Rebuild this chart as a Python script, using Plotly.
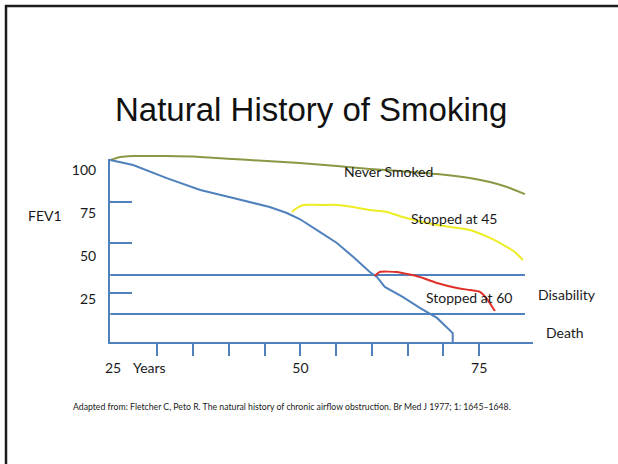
import plotly.graph_objects as go

# ---- data: FEV1 (% of value at age 25) against age in years ----
NEVER_AGE = [23.4, 24.8, 26.6, 31.3, 36.0, 40.6, 45.3, 49.9, 55.1, 59.7, 63.9, 69.1, 73.7, 76.5, 78.9, 81.4]
NEVER_FEV1 = [105.8, 107.6, 108.1, 108.1, 107.6, 106.4, 105.2, 104.1, 102.3, 100.6, 99.4, 97.7, 95.3, 93.0, 90.1, 86.0]

SMOKER_AGE = [23.4, 26.6, 31.3, 36.0, 40.6, 45.7, 48.1, 49.9, 52.7, 55.1, 57.4, 59.7, 60.7, 61.8,
              64.3, 66.7, 69.1, 70.9, 71.3, 71.3]
SMOKER_FEV1 = [105.8, 102.9, 95.3, 88.4, 83.7, 78.5, 75.0, 71.5, 64.0, 57.6, 49.4, 40.7, 37.8, 32.0,
               26.2, 19.8, 14.0, 7.0, 5.2, 0.0]

STOP45_AGE = [48.8, 49.5, 50.4, 52.7, 55.1, 57.4, 59.7, 62.1, 64.3, 69.1, 73.7, 76.5, 78.9, 80.0, 81.1]
STOP45_FEV1 = [75.6, 77.9, 79.7, 79.7, 79.7, 78.5, 76.7, 75.6, 72.7, 68.0, 65.1, 60.5, 55.2, 52.3, 47.7]

STOP60_AGE = [60.4, 61.1, 63.5, 66.7, 69.1, 71.9, 73.7, 75.1, 76.2, 77.2]
STOP60_FEV1 = [38.4, 40.7, 40.7, 37.8, 34.3, 31.4, 30.2, 29.1, 24.4, 18.0]

DISABILITY_FEV1 = 39.0
DEATH_FEV1 = 16.3

X_TICK_AGES = [30, 35, 40, 45, 50, 55, 60, 65, 70, 75]
X_TICK_TEXT = ["", "", "", "", "50", "", "", "", "", "75"]
Y_TICK_VALUES = [25, 50, 75, 100]
Y_TICK_TEXT = ["25", "50", "75", "100"]
Y_MARKS = [28.5, 57.6, 81.4]

# ---- page geometry ----
W, H = 618, 464
PX_PER_YEAR = 7.15
PX_PER_UNIT = 1.72
AGE_AT_X0 = 52.5 - 318.3 / PX_PER_YEAR        # age at left page edge
FEV_AT_BOTTOM = (342 - H) / PX_PER_UNIT        # FEV1 at page bottom
FEV_AT_TOP = 342 / PX_PER_UNIT                 # FEV1 at page top


def age_at(px):
    return AGE_AT_X0 + px / PX_PER_YEAR


AX_LEFT, AX_RIGHT, AX_BOTTOM, AX_TOP = 110, 533, 342, 159

BLUE = "#4F81BD"
OLIVE = "#8C9743"
YELLOW = "#EEEC22"
RED = "#E0302A"
INK = "#1a1a1a"
BODY_FONT = "Lato, Calibri, Carlito, sans-serif"

fig = go.Figure()

# everything inside the axis box lives on x/y2; the never-smoked curve rises
# just above the drawn axis, so it uses the taller (hidden) y axis
span = [NEVER_AGE[0], NEVER_AGE[-1]]
for level in (DISABILITY_FEV1, DEATH_FEV1):
    fig.add_trace(go.Scatter(x=span, y=[level, level], mode="lines", yaxis="y2",
                             line=dict(color=BLUE, width=2), hoverinfo="skip"))

fig.add_trace(go.Scatter(x=NEVER_AGE, y=NEVER_FEV1, mode="lines", name="Never Smoked", yaxis="y",
                         line=dict(color=OLIVE, width=2, shape="spline", smoothing=0.6)))
fig.add_trace(go.Scatter(x=SMOKER_AGE, y=SMOKER_FEV1, mode="lines", name="Smoker", yaxis="y2",
                         line=dict(color=BLUE, width=2)))
fig.add_trace(go.Scatter(x=STOP45_AGE, y=STOP45_FEV1, mode="lines", name="Stopped at 45", yaxis="y2",
                         line=dict(color=YELLOW, width=2, shape="spline", smoothing=0.6)))
fig.add_trace(go.Scatter(x=STOP60_AGE, y=STOP60_FEV1, mode="lines", name="Stopped at 60", yaxis="y2",
                         line=dict(color=RED, width=2, shape="spline", smoothing=0.5)))


def note(text, px, py, size=14):
    fig.add_annotation(x=px / W, y=1 - py / H, xref="paper", yref="paper",
                       text=text, showarrow=False, xanchor="center", yanchor="middle",
                       font=dict(family=BODY_FONT, size=size, color=INK))


note("Never Smoked", 388, 171)
note("Stopped at 45", 454, 218)
note("Stopped at 60", 469, 297)
note("Disability", 567, 294)
note("Death", 565, 332)
note("FEV1", 45, 215)
note("25", 113, 367)
note("Years", 149, 367)

fig.add_annotation(x=311 / W, y=1 - 110 / H, xref="paper", yref="paper",
                   text="Natural History of Smoking", showarrow=False,
                   xanchor="center", yanchor="middle",
                   font=dict(family="Liberation Sans, Arial, sans-serif", size=33, color="#111111"))
fig.add_annotation(x=292 / W, y=1 - 406 / H, xref="paper", yref="paper",
                   text="Adapted from: Fletcher C, Peto R. The natural history of chronic airflow obstruction. "
                        "Br Med J 1977; 1: 1645\u20131648.",
                   showarrow=False, xanchor="center", yanchor="middle",
                   font=dict(family=BODY_FONT, size=8.7, color=INK))

# frame edges on the top and left of the slide
fig.add_shape(type="line", xref="paper", yref="paper", x0=5 / W, x1=1, y0=1 - 6 / H, y1=1 - 6 / H,
              line=dict(color="#1c1c1c", width=2.5))
fig.add_shape(type="line", xref="paper", yref="paper", x0=6 / W, x1=6 / W, y0=0, y1=1 - 5 / H,
              line=dict(color="#1c1c1c", width=2.5))

fig.update_layout(
    width=W, height=H, autosize=False,
    margin=dict(l=0, r=0, t=0, b=0, pad=0, autoexpand=False),
    paper_bgcolor="white", plot_bgcolor="rgba(0,0,0,0)",
    showlegend=False,
    xaxis=dict(domain=[AX_LEFT / W, AX_RIGHT / W], range=[age_at(AX_LEFT), age_at(AX_RIGHT)],
               anchor="y2", showgrid=False, zeroline=False, automargin=False,
               showline=True, linecolor=BLUE, linewidth=2,
               tickmode="array", tickvals=X_TICK_AGES, ticktext=X_TICK_TEXT,
               ticks="outside", ticklen=12, tickwidth=2, tickcolor=BLUE,
               ticklabelstandoff=0,
               tickfont=dict(family=BODY_FONT, size=14, color=INK)),
    yaxis=dict(domain=[0, 1], range=[FEV_AT_BOTTOM, FEV_AT_TOP], visible=False,
               anchor="x", automargin=False),
    yaxis2=dict(domain=[(H - AX_BOTTOM) / H, (H - AX_TOP) / H],
                range=[0, (AX_BOTTOM - AX_TOP) / PX_PER_UNIT],
                anchor="x", showgrid=False, zeroline=False, automargin=False,
                showline=True, linecolor=BLUE, linewidth=2,
                tickmode="array", tickvals=Y_TICK_VALUES, ticktext=Y_TICK_TEXT, ticks="",
                ticklabelstandoff=9,
                tickfont=dict(family=BODY_FONT, size=14, color=INK),
                minor=dict(tickmode="array", tickvals=Y_MARKS, ticks="inside",
                           ticklen=22, tickwidth=2, tickcolor=BLUE)),
)

fig.write_html("out.html")
